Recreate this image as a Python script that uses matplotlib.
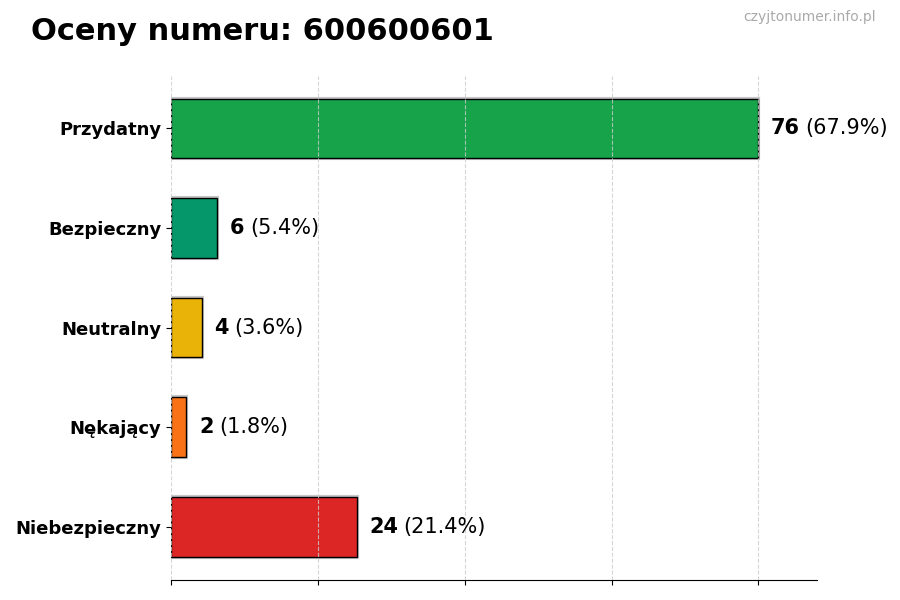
import matplotlib.pyplot as plt
import matplotlib.patheffects as pe

categories = ["Przydatny", "Bezpieczny", "Neutralny", "Nękający", "Niebezpieczny"]
counts = [76, 6, 4, 2, 24]
colors = ["#16a34a", "#059669", "#eab308", "#f97316", "#dc2626"]

total = sum(counts)

fig = plt.figure(figsize=(9, 6), dpi=100)
ax = fig.add_axes([0.19, 0.034, 0.718, 0.84])

bars = ax.barh(categories, counts, height=0.6, color=colors,
               edgecolor="black", linewidth=1, zorder=2)
for b in bars:
    b.set_path_effects([pe.SimpleLineShadow(offset=(0, 0), shadow_color="#bbbbbb", alpha=0.8, linewidth=3),
                        pe.Normal()])
ax.invert_yaxis()
ax.set_xlim(0, max(counts) * 1.1)
ax.set_xticks([0, 19, 38, 57, 76])
ax.set_xticklabels([])
ax.grid(axis="x", linestyle="--", color="#cccccc", alpha=0.8, zorder=3)
ax.set_axisbelow(False)

for s in ["top", "right", "left"]:
    ax.spines[s].set_visible(False)

for lbl in ax.get_yticklabels():
    lbl.set_fontweight("bold")
    lbl.set_fontsize(13)

for i, c in enumerate(counts):
    t = ax.annotate(f"{c}", (c, i), xytext=(9, 0), textcoords="offset points",
                    va="center", ha="left", fontsize=15, fontweight="bold")
    ax.annotate(f"({c / total * 100:.1f}%)", (1, 0.5), xycoords=t,
                xytext=(4, 0), textcoords="offset points",
                va="center", ha="left", fontsize=15)

fig.text(0.034, 0.948, "Oceny numeru: 600600601", fontsize=22, fontweight="bold",
         va="center", ha="left")
fig.text(0.973, 0.971, "czyjtonumer.info.pl", fontsize=10, color="#aaaaaa",
         va="center", ha="right")

fig.savefig("out.png", dpi=100)
